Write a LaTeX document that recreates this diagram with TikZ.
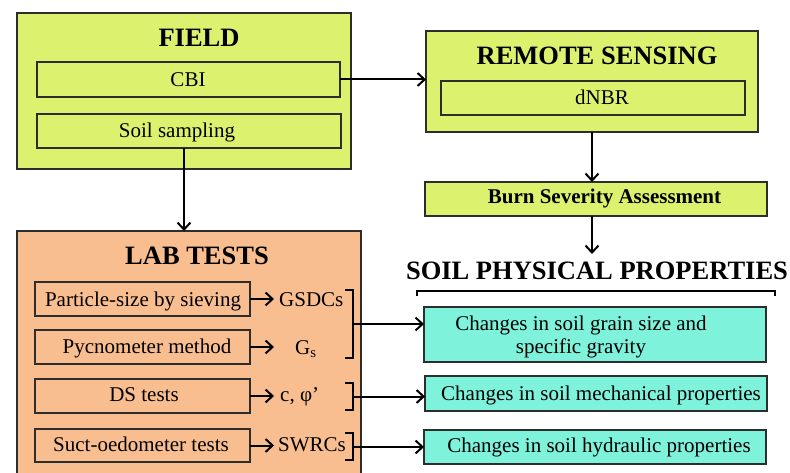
\documentclass[tikz,border=0pt]{standalone}
\usepackage{fontspec}
\setmainfont{LiberationSerif}[Extension=.ttf,UprightFont=*-Regular,BoldFont=*-Bold,ItalicFont=*-Italic,BoldItalicFont=*-BoldItalic]
\usetikzlibrary{arrows.meta}
\definecolor{lime}{RGB}{220,242,110}
\definecolor{peach}{RGB}{248,190,144}
\definecolor{teal2}{RGB}{126,242,218}
\definecolor{edge}{RGB}{45,45,45}
\begin{document}
\begin{tikzpicture}[x=1pt,y=-1pt,
  box/.style={draw=edge,line width=1.3pt,inner sep=0pt,outer sep=0pt},
  body/.style={font=\fontsize{21}{23}\selectfont,inner sep=0pt,anchor=base},
  ttl/.style={font=\fontsize{26.5}{30}\selectfont\bfseries,inner sep=0pt,anchor=base},
  bttl/.style={font=\fontsize{21}{23}\selectfont\bfseries,inner sep=0pt,anchor=base},
  arr/.style={draw=black,line width=2pt,-{Straight Barb[length=7pt,width=13pt]}},
  brk/.style={draw=black,line width=2pt}]
\clip (0,0) rectangle (790,473);
% outer boxes
\node[box,fill=lime,minimum width=334pt,minimum height=156pt] (field) at (184,91) {};
\node[box,fill=lime,minimum width=332pt,minimum height=101pt] (rs) at (592,81.5) {};
\node[box,fill=peach,minimum width=344pt,minimum height=260pt] (lab) at (189,361) {};
% field
\node[ttl] (fieldt) at (199,46.7) {FIELD};
\node[box,fill=lime,minimum width=303pt,minimum height=35pt] (cbi) at (188.5,79.5) {};
\node[body] (cbit) at (188,86.7) {CBI};
\node[box,fill=lime,minimum width=304pt,minimum height=34pt] (soil) at (189,131) {};
\node[body] (soilt) at (177,137.7) {Soil sampling};
% remote sensing
\node[ttl] (rst) at (597,65) {REMOTE SENSING};
\node[box,fill=lime,minimum width=304pt,minimum height=34pt] (dnbr) at (593,98) {};
\node[body] (dnbrt) at (602,104.3) {dNBR};
\node[box,fill=lime,minimum width=342pt,minimum height=34pt] (burn) at (596,199) {};
\node[bttl] (burnt) at (604.5,203.3) {Burn Severity Assessment};
% lab tests
\node[ttl] (labt) at (197,264.3) {LAB TESTS};
\node[box,fill=peach,minimum width=215pt,minimum height=34pt] (pa) at (142.5,299) {};
\node[body] (pat) at (143,306) {Particle-size by sieving};
\node[box,fill=peach,minimum width=215pt,minimum height=34pt] (py) at (142.5,347) {};
\node[body] (pyt) at (147,353.3) {Pycnometer method};
\node[box,fill=peach,minimum width=215pt,minimum height=34pt] (ds) at (142.5,396) {};
\node[body] (dst) at (144,401.7) {DS tests};
\node[box,fill=peach,minimum width=215pt,minimum height=33pt] (su) at (142.5,445.5) {};
\node[body] (sut) at (141,451.7) {Suct-oedometer tests};
% results
\node[body,anchor=base west] (gsdc) at (279,306) {GSDCs};
\node[body,anchor=base west] (gs) at (295,354) {G\textsubscript{s}};
\node[body,anchor=base west] (cphi) at (280,401.7) {c, φ’};
\node[body,anchor=base west] (swrc) at (278,451.7) {SWRCs};
% soil physical properties
\node[ttl] (spp) at (597,279.3) {SOIL PHYSICAL PROPERTIES};
\draw[brk] (417,296) -- (417,291) -- (775,291) -- (775,296);
\node[box,fill=teal2,minimum width=342pt,minimum height=55pt] (t1) at (595,334.5) {};
\node[body] (t1a) at (581,330) {Changes in soil grain size and};
\node[body] (t1b) at (581,353.3) {specific gravity};
\node[box,fill=teal2,minimum width=342pt,minimum height=35pt] (t2) at (596,393.5) {};
\node[body] (t2t) at (601,400) {Changes in soil mechanical properties};
\node[box,fill=teal2,minimum width=342pt,minimum height=34pt] (t3) at (595,447) {};
\node[body] (t3t) at (599,452.7) {Changes in soil hydraulic properties};
% connectors
\draw[arr] (cbi.east) -- (cbi.east -| rs.west);
\draw[arr] ([xshift=-5pt]soil.south) -- ([xshift=-5pt]soil.south |- lab.north);
\draw[arr] (rs.south) -- (rs.south |- burn.north);
\coordinate (sptop) at (592,254);
\draw[arr] (burn.south -| sptop) -- (sptop);
\draw[arr] (pa.east) -- ++(24,0);
\draw[arr] (py.east) -- ++(24,0);
\draw[arr] (ds.east) -- ++(24,0);
\draw[arr] (su.east) -- ++(24,0);
% brackets
\draw[brk] (345,290) -- (353,290) -- (353,358) -- (345,358);
\coordinate (b1) at (353,324);
\draw[arr] (b1) -- (b1 -| t1.west);
\draw[brk] (345,383) -- (353,383) -- (353,410) -- (345,410);
\coordinate (b2) at (353,396.5);
\draw[arr] (b2) -- (b2 -| t2.west);
\draw[brk] (345,433) -- (353,433) -- (353,460) -- (345,460);
\coordinate (b3) at (353,447);
\draw[arr] (b3) -- (b3 -| t3.west);
\end{tikzpicture}
\end{document}
